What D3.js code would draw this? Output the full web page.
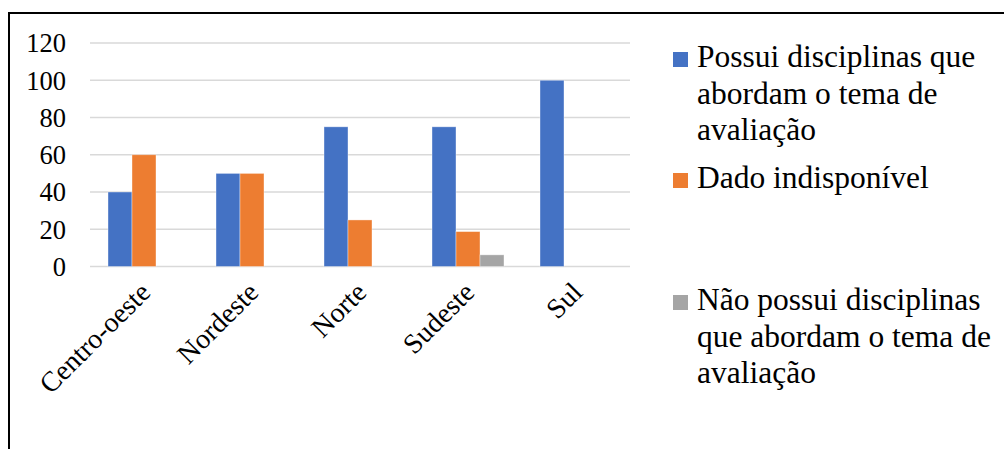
<!DOCTYPE html>
<html>
<head>
<meta charset="utf-8">
<script src="https://cdn.jsdelivr.net/npm/d3@7"></script>
<style>
  body { margin: 0; background: #fff; }
  svg { display: block; font-family: "Liberation Serif", "Times New Roman", serif; }
</style>
</head>
<body>
<script>
// data
var regioes = ["Centro-oeste", "Nordeste", "Norte", "Sudeste", "Sul"];
var possui = [40, 50, 75, 75, 100];
var indisponivel = [60, 50, 25, 18.75, 0];
var naoPossui = [0, 0, 0, 6.25, 0];
var yTicks = [0, 20, 40, 60, 80, 100, 120];

var seriesNomes = [
  ["Possui disciplinas que", "abordam o tema de", "avaliação"],
  ["Dado indisponível"],
  ["Não possui disciplinas", "que abordam o tema de", "avaliação"]
];
var cores = ["#4472C4", "#ED7D31", "#A5A5A5"];
var series = [possui, indisponivel, naoPossui];

const W = 1004, H = 449;
const plot = { left: 90, right: 630, top: 43, bottom: 266.5 };

var svg = d3.select("body").append("svg")
  .attr("width", W)
  .attr("height", H);

// moldura
svg.append("rect")
  .attr("x", 9).attr("y", 13)
  .attr("width", 1100).attr("height", 600)
  .attr("fill", "none")
  .attr("stroke", "#000")
  .attr("stroke-width", 2);

const x0 = d3.scaleBand()
  .domain(regioes)
  .range([plot.left, plot.right])
  .paddingInner(0)
  .paddingOuter(0);

const x1 = d3.scaleBand()
  .domain([0, 1, 2])
  .range([0, x0.bandwidth()])
  .paddingOuter(0.75)
  .paddingInner(0);

const y = d3.scaleLinear()
  .domain([0, 120])
  .range([plot.bottom, plot.top]);

// grade
svg.append("g")
  .selectAll("line")
  .data(yTicks)
  .enter()
  .append("line")
  .attr("x1", plot.left)
  .attr("x2", plot.right)
  .attr("y1", d => y(d))
  .attr("y2", d => y(d))
  .attr("stroke", "#D9D9D9")
  .attr("stroke-width", 1.5);

// eixo y (so rotulos)
const yAxis = d3.axisLeft(y).tickValues(yTicks).tickSize(0).tickPadding(0);
var gy = svg.append("g")
  .attr("transform", "translate(66,0)")
  .attr("font-family", null)
  .call(yAxis);
gy.attr("font-family", null).attr("font-size", null);
gy.select(".domain").remove();
gy.selectAll("text")
  .attr("font-size", 26.5)
  .attr("fill", "#000")
  .attr("dy", "0.33em");

// barras
series.forEach(function (vals, s) {
  svg.append("g")
    .selectAll("rect")
    .data(regioes)
    .enter()
    .filter((d, i) => vals[i] > 0)
    .append("rect")
    .attr("x", d => x0(d) + x1(s))
    .attr("y", d => y(vals[regioes.indexOf(d)]))
    .attr("width", x1.bandwidth())
    .attr("height", d => plot.bottom - y(vals[regioes.indexOf(d)]))
    .attr("fill", cores[s])
    .attr("stroke", "#fff")
    .attr("stroke-opacity", 0.5)
    .attr("stroke-width", 0.75);
});

// rotulos x
svg.append("g")
  .selectAll("text")
  .data(regioes)
  .enter()
  .append("text")
  .attr("transform", d => "translate(" + (x0(d) + x0.bandwidth() / 2 + 1) + "," + 287 + ") rotate(-45)")
  .attr("text-anchor", "end")
  .attr("font-size", 28)
  .attr("dy", "0.35em")
  .text(d => d);

// legenda
var legY = [52, 173, 295];
var leg = svg.append("g");
seriesNomes.forEach(function (linhas, s) {
  leg.append("rect")
    .attr("x", 673)
    .attr("y", legY[s])
    .attr("width", 15)
    .attr("height", 15)
    .attr("fill", cores[s]);
  var t = leg.append("text")
    .attr("x", 697)
    .attr("y", legY[s] + 15)
    .attr("font-size", 31.5);
  linhas.forEach(function (l, k) {
    t.append("tspan")
      .attr("x", 697)
      .attr("dy", k == 0 ? 0 : 36.5)
      .text(l);
  });
});
</script>
</body>
</html>
